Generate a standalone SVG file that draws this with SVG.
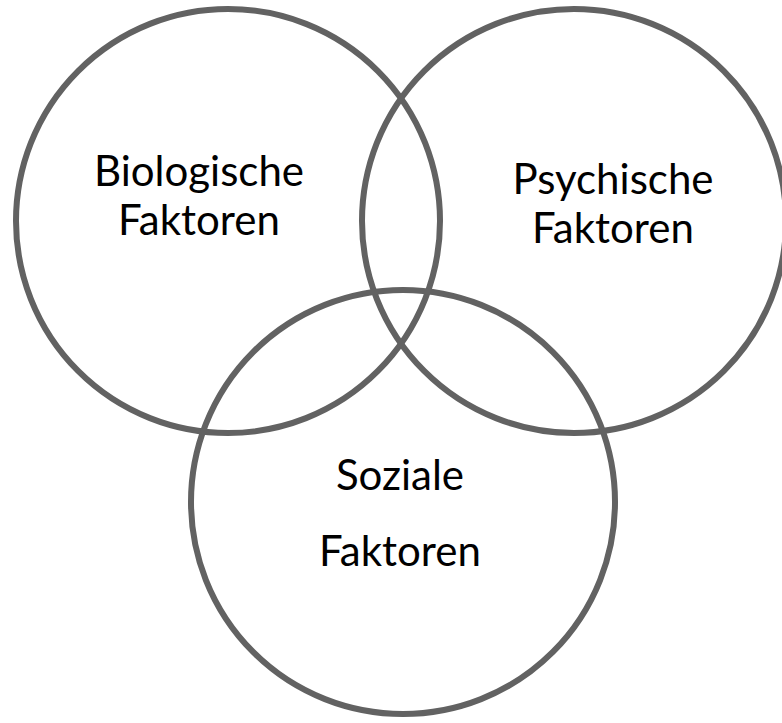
<svg xmlns="http://www.w3.org/2000/svg" width="782" height="723" viewBox="0 0 782 723">
  <style>
    .ring { fill: none; stroke: #626262; stroke-width: 6; }
    .label { font-family: "Lato", "Liberation Sans", sans-serif; font-size: 42px; fill: #000; text-anchor: middle; }
  </style>
  <rect width="782" height="723" fill="#fff"/>
  <g id="biologisch">
    <circle class="ring" cx="228" cy="221" r="212"/>
    <text class="label" x="199" y="186">Biologische</text>
    <text class="label" x="199" y="235">Faktoren</text>
  </g>
  <g id="psychisch">
    <circle class="ring" cx="574" cy="221" r="212"/>
    <text class="label" x="613" y="194">Psychische</text>
    <text class="label" x="613" y="243">Faktoren</text>
  </g>
  <g id="sozial">
    <circle class="ring" cx="403" cy="502" r="212"/>
    <text class="label" x="400" y="490">Soziale</text>
    <text class="label" x="400" y="566">Faktoren</text>
  </g>
  <g id="connectors"/>
</svg>
